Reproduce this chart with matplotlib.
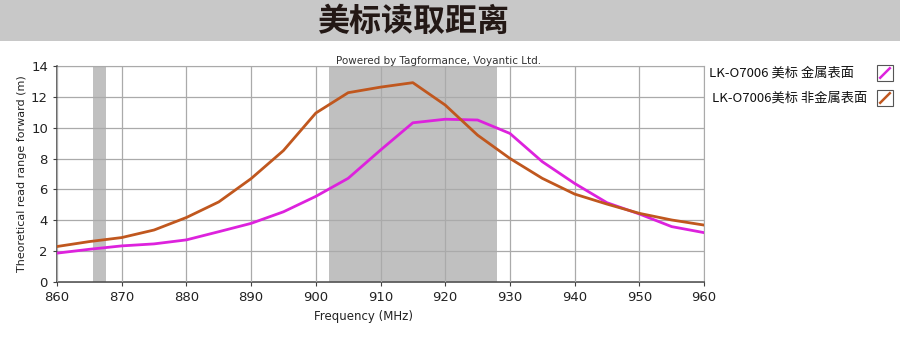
import matplotlib
matplotlib.use('Agg')
import matplotlib.pyplot as plt
from matplotlib.patches import Rectangle
from matplotlib.lines import Line2D

# Read-range curves, sampled every 5 MHz
freq_mhz = [860, 865, 870, 875, 880, 885, 890, 895, 900, 905, 910,
            915, 920, 925, 930, 935, 940, 945, 950, 955, 960]
range_metal = [1.87, 2.12, 2.34, 2.47, 2.73, 3.26, 3.80, 4.55, 5.55, 6.72, 8.55,
               10.32, 10.55, 10.50, 9.63, 7.80, 6.39, 5.14, 4.41, 3.59, 3.20]
range_nonmetal = [2.30, 2.62, 2.88, 3.37, 4.18, 5.19, 6.70, 8.52, 10.95, 12.27, 12.63,
                  12.92, 11.47, 9.52, 8.01, 6.72, 5.70, 5.05, 4.45, 4.02, 3.69]

# Regulatory bands shaded in grey (MHz)
band_edges = [(865.6, 867.6), (902.0, 928.0)]

series_labels = ['LK-O7006 美标 金属表面', 'LK-O7006美标 非金属表面']
series_colors = ['#DD22DD', '#C0571E']

title = '美标读取距离'
credit = 'Powered by Tagformance, Voyantic Ltd.'

plt.rcParams['font.family'] = ['DejaVu Sans', 'Noto Sans CJK SC']
CJK = ['Noto Sans CJK SC', 'DejaVu Sans']

fig = plt.figure(figsize=(9, 3.55), dpi=100)
fig.patch.set_facecolor('white')

# grey title band
fig.patches.append(Rectangle((0, 1 - 41 / 355), 1, 41 / 355, transform=fig.transFigure,
                             facecolor='#C8C8C8', edgecolor='none', zorder=0))
fig.text(413 / 900, 1 - 22 / 355, title, ha='center', va='center', fontsize=23,
         fontweight='bold', family=CJK, color='#231815')

ax = fig.add_axes([57 / 900, 1 - 282 / 355, 647 / 900, 216 / 355])
for lo, hi in band_edges:
    ax.axvspan(lo, hi, color='#C0C0C0', lw=0, zorder=0.5)

ax.plot(freq_mhz, range_metal, color=series_colors[0], lw=2.0, zorder=3)
ax.plot(freq_mhz, range_nonmetal, color=series_colors[1], lw=2.0, zorder=3)

ax.set_xlim(860, 960)
ax.set_ylim(0, 14)
ax.set_xticks(range(860, 961, 10))
ax.set_yticks(range(0, 15, 2))
ax.grid(True, color='#AAAAAA', lw=0.9, zorder=1)
ax.set_axisbelow(False)
ax.tick_params(labelsize=9.5, length=3, color='#404040', labelcolor='#222222')
for side in ('top', 'right'):
    ax.spines[side].set_color('#AAAAAA')
for side in ('left', 'bottom'):
    ax.spines[side].set_color('#404040')
    ax.spines[side].set_linewidth(1.1)

ax.set_xlabel('Frequency (MHz)', fontsize=8.5, color='#222222')
ax.xaxis.set_label_coords(0.474, -0.13)
ax.set_ylabel('Theoretical read range forward (m)', fontsize=8, color='#222222')
ax.yaxis.set_label_coords(-0.046, 0.5)

ax.text(0.59, 1.022, credit, transform=ax.transAxes, ha='center', va='center',
        fontsize=7.5, color='#333333')

# legend: label text followed by a small boxed line sample
legend_x = [709, 712]
legend_y = [73, 98]
for label, color, xpx, ypx in zip(series_labels, series_colors, legend_x, legend_y):
    yf = 1 - ypx / 355
    fig.text(xpx / 900, yf, label, ha='left', va='center', fontsize=9.5,
             family=CJK, color='#111111')
    bx, by, bw, bh = 877 / 900, yf - 8 / 355, 16 / 900, 16 / 355
    fig.patches.append(Rectangle((bx, by), bw, bh, transform=fig.transFigure,
                                 facecolor='white', edgecolor='#555555', lw=0.8))
    fig.lines.append(Line2D([bx + 0.2 * bw, bx + 0.8 * bw], [by + 0.2 * bh, by + 0.8 * bh],
                            transform=fig.transFigure, color=color, lw=1.8))

fig.savefig('out.png', dpi=100, facecolor='white')
